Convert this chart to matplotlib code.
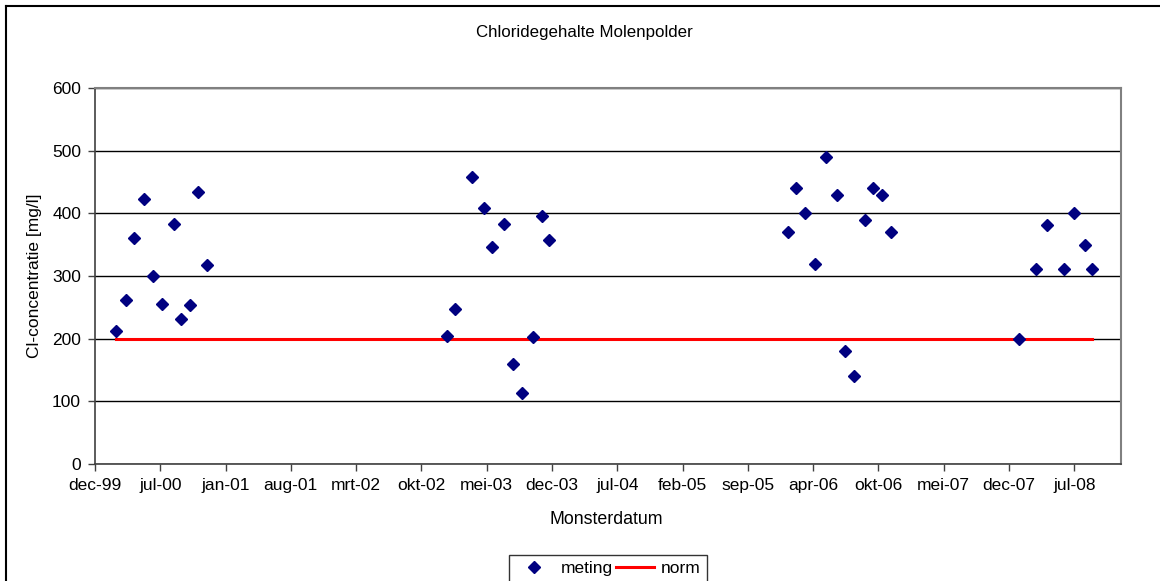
"""
Chloridegehalte Molenpolder: Cl-concentratie per monsterdatum, met norm 200 mg/l.
"""
import matplotlib
matplotlib.use('Agg')
import matplotlib.pyplot as plt
from matplotlib.lines import Line2D
import pandas as pd

plt.rcParams['font.family'] = ['Liberation Sans', 'DejaVu Sans']

# meetdata
dates = ['2000-02-10', '2000-03-15', '2000-04-10', '2000-05-10', '2000-06-09',
         '2000-07-09', '2000-08-16', '2000-09-07', '2000-10-07', '2000-11-01',
         '2000-12-01',
         '2003-01-10', '2003-02-05', '2003-03-31', '2003-05-10', '2003-06-05',
         '2003-07-12', '2003-08-11', '2003-09-10', '2003-10-14', '2003-11-14',
         '2003-12-06',
         '2006-01-13', '2006-02-07', '2006-03-09', '2006-04-08', '2006-05-13',
         '2006-06-19', '2006-07-15', '2006-08-11', '2006-09-17', '2006-10-13',
         '2006-11-09', '2006-12-09',
         '2008-01-26', '2008-03-21', '2008-04-25', '2008-06-19', '2008-07-19',
         '2008-08-23', '2008-09-17']
meting = [213, 262, 361, 423, 300, 255, 383, 232, 254, 434, 317,
          205, 247, 458, 408, 347, 383, 160, 113, 203, 396, 358,
          370, 440, 400, 319, 490, 430, 181, 140, 390, 441, 430, 370,
          200, 311, 381, 311, 400, 349, 311]
norm = [200] * len(meting)

# Excel-as: start 6-dec-1999 (serial 36500), stap 210 dagen, max serial 39800
tick_labels = ['dec-99', 'jul-00', 'jan-01', 'aug-01', 'mrt-02', 'okt-02',
               'mei-03', 'dec-03', 'jul-04', 'feb-05', 'sep-05', 'apr-06',
               'okt-06', 'mei-07', 'dec-07', 'jul-08']
excel0 = pd.Timestamp('1899-12-30')
x_min = excel0 + pd.Timedelta(days=36500)
x_max = excel0 + pd.Timedelta(days=39800)
ticks = [x_min + pd.Timedelta(days=210 * k) for k in range(len(tick_labels))]

x = pd.to_datetime(dates)

fig = plt.figure(figsize=(11.6, 5.81), dpi=100)
ax = fig.add_axes([95 / 1160, 1 - 464 / 581, (1121 - 95) / 1160, (464 - 88) / 581])

ax.plot(x, norm, '-', color='#ff0000', linewidth=2.2, zorder=2, label='norm')
ax.plot(x, meting, 'D', color='#000080', markersize=5.8, linestyle='none',
        zorder=3, label='meting')

ax.set_xlim(x_min, x_max)
ax.set_ylim(0, 600)
ax.set_yticks(range(0, 601, 100))
ax.set_xticks(ticks)
ax.set_xticklabels(tick_labels)
ax.yaxis.grid(True, color='black', linewidth=1)
ax.set_axisbelow(True)

for side in ['top', 'right']:
    ax.spines[side].set_color('#808080')
    ax.spines[side].set_linewidth(1.5)
for side in ['left', 'bottom']:
    ax.spines[side].set_color('#404040')
    ax.spines[side].set_linewidth(1.2)
ax.tick_params(axis='both', direction='out', length=5, width=1, color='#404040',
               labelsize=12.5, pad=5)

fig.text(0.504, 1 - 33 / 581, 'Chloridegehalte Molenpolder', ha='center',
         va='center', fontsize=12.2)
fig.text(35 / 1160, 1 - 276 / 581, 'Cl-concentratie [mg/l]', rotation=90,
         ha='center', va='center', fontsize=12.5)
fig.text(0.523, 1 - 520 / 581, 'Monsterdatum', ha='center', va='center',
         fontsize=12.8)

# legenda
handles = [Line2D([], [], marker='D', color='#000080', markersize=5.8, linestyle='none'),
           Line2D([], [], color='#ff0000', linewidth=2.2)]
leg = fig.legend(handles, ['meting', 'norm'], loc='upper center', ncol=2,
                 bbox_to_anchor=(608 / 1160, 1 - 546 / 581), frameon=True,
                 fancybox=False, edgecolor='black', fontsize=12.5,
                 handlelength=2.2, columnspacing=0.2, handletextpad=0.4,
                 borderpad=0.35)
leg.get_frame().set_linewidth(1)

# rand van het grafiekgebied
fig.add_artist(Line2D([6 / 1160, 1.0], [1 - 6 / 581, 1 - 6 / 581],
                      transform=fig.transFigure, color='black', linewidth=1.5))
fig.add_artist(Line2D([6 / 1160, 6 / 1160], [0.0, 1 - 6 / 581],
                      transform=fig.transFigure, color='black', linewidth=1.5))

plt.savefig('out.png', dpi=100)
print('saved out.png')
